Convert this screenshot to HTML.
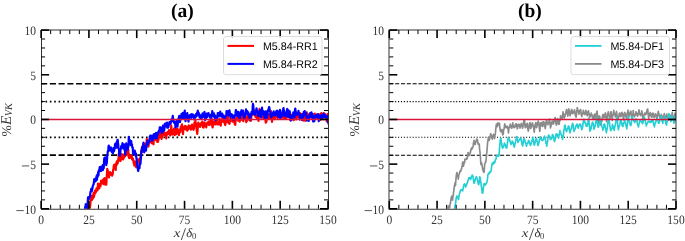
<!DOCTYPE html>
<html><head><meta charset="utf-8"><title>fig</title><style>html,body{margin:0;padding:0;background:#fff;width:685px;height:241px;overflow:hidden}svg{display:block;will-change:transform}</style></head><body>
<svg width="685" height="241" viewBox="0 0 685 241">
<defs><clipPath id="ca"><rect x="41.1" y="30.1" width="286.9" height="178.7"/></clipPath><clipPath id="cb"><rect x="389.3" y="30.1" width="286.7" height="178.7"/></clipPath></defs>
<style>text{text-rendering:geometricPrecision}.tl{font-family:"Liberation Serif",serif;font-size:12.8px;fill:#333}.it{font-style:italic}.ts{font-family:"Liberation Serif",serif;font-size:9px;fill:#333}.yl{font-size:13.6px}.lg{font-family:"Liberation Sans",sans-serif;font-size:11px;fill:#000}.tt{font-family:"Liberation Serif",serif;font-size:19.5px;font-weight:bold;fill:#000}</style>
<line x1="41.1" y1="83.71" x2="328" y2="83.71" stroke="#000" stroke-width="1.65" stroke-dasharray="6.1 2.64"/>
<line x1="41.1" y1="155.19" x2="328" y2="155.19" stroke="#000" stroke-width="1.65" stroke-dasharray="6.1 2.64"/>
<line x1="41.1" y1="101.58" x2="328" y2="101.58" stroke="#000" stroke-width="1.65" stroke-dasharray="1.65 2.72"/>
<line x1="41.1" y1="137.32" x2="328" y2="137.32" stroke="#000" stroke-width="1.65" stroke-dasharray="1.65 2.72"/>
<g clip-path="url(#ca)" fill="none" stroke-linejoin="round">
<polyline points="87,215.28 87.25,213.23 87.5,213.86 87.75,211.1 88,207.07 88.25,206.74 88.5,208.09 88.75,206.31 89,208.44 89.25,208.8 89.5,206.38 89.75,208.08 90,207.01 90.25,204.63 90.5,201.83 90.75,199.38 91,197.66 91.25,195.82 91.5,198.1 91.75,199.39 92,199.96 92.25,197.26 92.5,197.33 92.75,196.22 93,198.35 93.25,195.87 93.5,192.74 93.75,195.45 94,196.97 94.25,194.81 94.5,194.55 94.75,193.15 95,190.67 95.25,191.11 95.5,192.07 95.75,192.55 96,191.74 96.25,190.93 96.5,188.43 96.75,190.41 97,188.99 97.25,188.73 97.5,190.5 97.75,187.13 98,183.72 98.25,185.08 98.5,187.38 98.75,183.8 99,188.17 99.25,188.47 99.5,186.12 99.75,185.22 100,185.68 100.25,184.67 100.5,186.28 100.75,184.23 101,180.73 101.25,180.76 101.5,181.85 101.75,182.72 102,180.59 102.25,180.82 102.5,183.33 102.75,181.2 103,180.95 103.25,179.4 103.5,180.59 103.75,184.15 104,178.81 104.25,180.28 104.5,178.03 104.75,180.85 105,182.93 105.25,182.56 105.5,184.74 105.75,184.33 106,183.48 106.25,184.65 106.5,181.25 106.75,176.42 107,172.6 107.25,168.95 107.5,170.95 107.75,170.29 108,174.8 108.25,174.31 108.5,172.71 108.75,173.58 109,177.46 109.25,172.43 109.5,173.8 109.75,175.04 110,172.01 110.25,172.72 110.5,172.98 110.75,174.46 111,173.63 111.25,173.86 111.5,174 111.75,173.11 112,175.75 112.25,174.47 112.5,174.68 112.75,173.87 113,170.94 113.25,169.36 113.5,168.13 113.75,166.14 114,165.19 114.25,164.68 114.5,165.63 114.75,167.24 115,168.4 115.25,168.54 115.5,169.49 115.75,169.84 116,163.96 116.25,164.97 116.5,162.05 116.75,164.81 117,163.26 117.25,160.78 117.5,162.42 117.75,163.53 118,160.17 118.25,160.48 118.5,157.63 118.75,153.72 119,156.52 119.25,156.52 119.5,156.38 119.75,160.7 120,160.53 120.25,159.23 120.5,160.96 120.75,158.61 121,159.66 121.25,156.29 121.5,157.09 121.75,154.2 122,158.19 122.25,156.93 122.5,158.84 122.75,156.19 123,157.14 123.25,159.33 123.5,154.72 123.75,155.91 124,157.65 124.25,155.76 124.5,156.14 124.75,154.75 125,156.42 125.25,155.14 125.5,154.25 125.75,153.77 126,155.21 126.25,155.03 126.5,154.54 126.75,150.25 127,151.98 127.25,153.28 127.5,153.59 127.75,151.67 128,150.68 128.25,149.39 128.5,156.37 128.75,153.29 129,157.81 129.25,158.18 129.5,156.9 129.75,156.3 130,157.31 130.25,155.65 130.5,157.62 130.75,157.03 131,156.98 131.25,156.89 131.5,157.25 131.75,155.56 132,159.18 132.25,158.47 132.5,159.73 132.75,159.61 133,158.59 133.25,160.72 133.5,161.28 133.75,163.45 134,163.32 134.25,165.39 134.5,163.21 134.75,161.28 135,162.29 135.25,162.07 135.5,162.27 135.75,166.71 136,165.33 136.25,167.29 136.5,165.98 136.75,165.43 137,163.88 137.25,165.75 137.5,164.31 137.75,163.44 138,161.3 138.25,159.34 138.5,160.64 138.75,159.65 139,161.48 139.25,162.1 139.5,160.6 139.75,158.94 140,158.64 140.25,158.74 140.5,155.76 140.75,156.28 141,154.43 141.25,151.55 141.5,150.02 141.75,149.86 142,147.67 142.25,146.73 142.5,148.84 142.75,148.79 143,151.4 143.25,148.36 143.5,146.26 143.75,148.75 144,147.72 144.25,144.87 144.5,144.09 144.75,146.13 145,143.99 145.25,145.98 145.5,143.68 145.75,146.36 146,143.5 146.25,143.77 146.5,143.81 146.75,139.13 147,140.25 147.25,139.63 147.5,140.47 147.75,140.9 148,144.75 148.25,143.88 148.5,146.55 148.75,142.56 149,142.41 149.25,141.37 149.5,141.87 149.75,141.82 150,138.31 150.25,137.37 150.5,136.59 150.75,141.9 151,141.42 151.25,141.98 151.5,143.13 151.75,139.52 152,140.18 152.25,143.21 152.5,142.9 152.75,142.98 153,141.87 153.25,143.84 153.5,144.34 153.75,139.52 154,140.13 154.25,138.74 154.5,138.95 154.75,137.69 155,136.95 155.25,137.09 155.5,139.16 155.75,139.34 156,140.19 156.25,139.89 156.5,140.41 156.75,138.39 157,139.41 157.25,141.89 157.5,140.94 157.75,141.08 158,141.82 158.25,140.47 158.5,139.64 158.75,137.86 159,133.44 159.25,132.99 159.5,131.99 159.75,131.92 160,130.11 160.25,133.26 160.5,132.83 160.75,134.93 161,136.62 161.25,136.29 161.5,139.01 161.75,136.85 162,137.5 162.25,136.58 162.5,136.26 162.75,134.87 163,130.41 163.25,132.26 163.5,129.91 163.75,132.3 164,134.03 164.25,134.49 164.5,135.17 164.75,133.28 165,134.08 165.25,133.55 165.5,134.8 165.75,135.08 166,132.94 166.25,138.39 166.5,134.18 166.75,133.92 167,134.69 167.25,134.45 167.5,133.74 167.75,131.91 168,134.22 168.25,132.11 168.5,133.7 168.75,133.3 169,129.98 169.25,130.33 169.5,130.9 169.75,133.49 170,134.17 170.25,135.44 170.5,131.85 170.75,131.04 171,129.85 171.25,125.58 171.5,128.71 171.75,130.81 172,131.9 172.25,132.25 172.5,134.69 172.75,134.27 173,133.61 173.25,130.6 173.5,133.03 173.75,129.59 174,128.67 174.25,130.02 174.5,130.96 174.75,135.24 175,132.24 175.25,131.27 175.5,127.94 175.75,131.25 176,130.18 176.25,131.06 176.5,134.03 176.75,131.9 177,133.11 177.25,132.74 177.5,128.73 177.75,131.14 178,129.88 178.25,132.04 178.5,133.45 178.75,131.09 179,135.06 179.25,132.81 179.5,131.12 179.75,131.7 180,132.22 180.25,128.97 180.5,129.6 180.75,126.9 181,128.89 181.25,127.04 181.5,125.81 181.75,127.05 182,124.32 182.25,127.64 182.5,132.47 182.75,132.33 183,134.2 183.25,131.38 183.5,128.95 183.75,128.14 184,128.07 184.25,127.17 184.5,126.27 184.75,126.25 185,126.02 185.25,128.45 185.5,129.31 185.75,129.57 186,126.3 186.25,128.92 186.5,127.79 186.75,126.82 187,129.21 187.25,130.64 187.5,130.21 187.75,129.9 188,129.56 188.25,128.97 188.5,127.81 188.75,125.36 189,126.72 189.25,127.67 189.5,126.2 189.75,126.99 190,126.57 190.25,126.21 190.5,129.16 190.75,126.87 191,129.55 191.25,126.9 191.5,125.48 191.75,125.89 192,124.53 192.25,127.22 192.5,125.95 192.75,128.36 193,127.96 193.25,129.28 193.5,129.8 193.75,128.53 194,128.36 194.25,124.09 194.5,122.29 194.75,123.34 195,122.72 195.25,121.62 195.5,121.02 195.75,125.36 196,123.56 196.25,126.27 196.5,127.66 196.75,131.04 197,131.64 197.25,133.8 197.5,131.4 197.75,127.57 198,124.39 198.25,122.57 198.5,126.01 198.75,124.41 199,123.82 199.25,123.66 199.5,125.03 199.75,126.06 200,126.92 200.25,123.49 200.5,124.95 200.75,123.4 201,123.76 201.25,123.81 201.5,124.65 201.75,123.91 202,125.04 202.25,121.49 202.5,123.43 202.75,127.04 203,124.36 203.25,125.95 203.5,127.54 203.75,125.38 204,126.5 204.25,123.4 204.5,122.25 204.75,123.34 205,123.39 205.25,125.67 205.5,125.24 205.75,125.68 206,123.81 206.25,127.51 206.5,124.07 206.75,123.74 207,123.81 207.25,122.83 207.5,122.41 207.75,123.23 208,124.27 208.25,123.72 208.5,123.67 208.75,121.72 209,121.33 209.25,125.13 209.5,123.2 209.75,124.54 210,124.55 210.25,124.47 210.5,120.52 210.75,120.62 211,120.62 211.25,120.71 211.5,118.44 211.75,121.61 212,120.21 212.25,125.5 212.5,127.4 212.75,126.91 213,123.69 213.25,124.93 213.5,121.91 213.75,121.45 214,121.58 214.25,121.62 214.5,122.99 214.75,124.12 215,121.24 215.25,123.4 215.5,124.42 215.75,122.86 216,122.36 216.25,119.6 216.5,122.4 216.75,119.6 217,121.68 217.25,123.32 217.5,124.39 217.75,123.46 218,124.31 218.25,122.6 218.5,122.73 218.75,124.46 219,122.52 219.25,121.37 219.5,118.9 219.75,119.61 220,121.46 220.25,121.08 220.5,122.7 220.75,125.57 221,122.97 221.25,121.51 221.5,119.53 221.75,119.64 222,119.63 222.25,121.1 222.5,118.61 222.75,121.56 223,118.69 223.25,119.61 223.5,121.27 223.75,120.41 224,120.07 224.25,121.15 224.5,123.09 224.75,121.86 225,124.78 225.25,125.09 225.5,122.74 225.75,122.07 226,118.71 226.25,119.21 226.5,120.58 226.75,122.21 227,121.6 227.25,121.89 227.5,117.53 227.75,118.25 228,115.89 228.25,118 228.5,119.95 228.75,123.24 229,122.51 229.25,121.54 229.5,123.96 229.75,122.3 230,120.71 230.25,121.24 230.5,119.97 230.75,120.47 231,118.5 231.25,119.15 231.5,119.21 231.75,119.4 232,119.65 232.25,119.47 232.5,121.69 232.75,121.03 233,121.63 233.25,120.82 233.5,121.04 233.75,119.79 234,121.04 234.25,122.09 234.5,122.26 234.75,124.1 235,124.33 235.25,124.81 235.5,121.79 235.75,118.91 236,120.1 236.25,118.83 236.5,117.31 236.75,118.5 237,118.01 237.25,118.54 237.5,118.02 237.75,118.94 238,119.07 238.25,120.76 238.5,117.95 238.75,118.76 239,119.33 239.25,117.09 239.5,117.45 239.75,121.75 240,117.34 240.25,119.99 240.5,118.48 240.75,118.74 241,117.44 241.25,118.69 241.5,119.75 241.75,115.91 242,116.7 242.25,115.04 242.5,118.45 242.75,117.3 243,120.85 243.25,121.12 243.5,118.82 243.75,116.22 244,118.77 244.25,114.97 244.5,115.5 244.75,116.56 245,116.62 245.25,115.45 245.5,117.45 245.75,118.23 246,120.48 246.25,122.19 246.5,117.65 246.75,121.15 247,116.23 247.25,118.85 247.5,116.94 247.75,119.98 248,117.73 248.25,116.61 248.5,116.74 248.75,115.96 249,115.88 249.25,114.6 249.5,115.08 249.75,118.63 250,120.33 250.25,120.78 250.5,120.63 250.75,120.11 251,120.73 251.25,117.78 251.5,116.08 251.75,115.52 252,112.41 252.25,111.77 252.5,113.8 252.75,113.01 253,113.05 253.25,114.31 253.5,113.74 253.75,114.04 254,114.5 254.25,114.58 254.5,112.84 254.75,110.36 255,111.66 255.25,114.09 255.5,116.8 255.75,114.81 256,116.26 256.25,115.42 256.5,116.41 256.75,116.18 257,118.52 257.25,118.51 257.5,118.36 257.75,118.46 258,119.29 258.25,119.06 258.5,120.8 258.75,117.45 259,111.66 259.25,110.85 259.5,108.91 259.75,110.45 260,115.05 260.25,116.71 260.5,113.81 260.75,115.64 261,111.39 261.25,111 261.5,114.82 261.75,116.14 262,117.58 262.25,117.73 262.5,117.51 262.75,116.59 263,116.18 263.25,114.61 263.5,115.61 263.75,118.19 264,116.27 264.25,116.51 264.5,116.11 264.75,113.09 265,115.53 265.25,119.59 265.5,120.07 265.75,122.66 266,122.51 266.25,121.79 266.5,120.86 266.75,118.47 267,116.02 267.25,115.61 267.5,113.98 267.75,114.36 268,116.54 268.25,115.94 268.5,117.9 268.75,116.01 269,115.28 269.25,114.63 269.5,114.87 269.75,118.19 270,113.91 270.25,115.72 270.5,115.53 270.75,113.55 271,111.1 271.25,115.32 271.5,115.11 271.75,117.78 272,122 272.25,117.77 272.5,114.78 272.75,116.47 273,115.58 273.25,115.93 273.5,114.88 273.75,116.05 274,115.45 274.25,119.18 274.5,118.81 274.75,118.92 275,115.23 275.25,117.44 275.5,117.41 275.75,117.11 276,116.85 276.25,116.13 276.5,115.91 276.75,116.71 277,116.28 277.25,116.09 277.5,115.57 277.75,118.03 278,115.09 278.25,116.64 278.5,115.29 278.75,116.31 279,116.03 279.25,115.44 279.5,115.47 279.75,113.58 280,118.04 280.25,116.52 280.5,116.01 280.75,116.29 281,115.98 281.25,116.75 281.5,116.47 281.75,115.6 282,113.26 282.25,116.41 282.5,117.29 282.75,117.61 283,116.73 283.25,117.13 283.5,117.57 283.75,115.96 284,118.95 284.25,115.88 284.5,117.4 284.75,117.37 285,114.83 285.25,115.65 285.5,117.54 285.75,117.67 286,116.52 286.25,118.51 286.5,116.53 286.75,114.98 287,115.11 287.25,113.94 287.5,115.29 287.75,113.17 288,116.38 288.25,114.81 288.5,115.77 288.75,112.52 289,113.16 289.25,114.64 289.5,116.76 289.75,115.65 290,119.79 290.25,117.31 290.5,115.11 290.75,116.06 291,114.57 291.25,116.09 291.5,117.66 291.75,116.15 292,115.39 292.25,116.21 292.5,118.07 292.75,118.22 293,116.91 293.25,117.16 293.5,118.75 293.75,120.18 294,113.92 294.25,117.06 294.5,115.33 294.75,115.35 295,114.33 295.25,112.44 295.5,111.8 295.75,113.09 296,114.24 296.25,119.42 296.5,117.76 296.75,117.29 297,117.37 297.25,115.7 297.5,116.34 297.75,116.4 298,115.09 298.25,112.91 298.5,117.63 298.75,116.81 299,116.79 299.25,116.49 299.5,115.88 299.75,115.97 300,114.18 300.25,113.23 300.5,114.12 300.75,116.07 301,113.78 301.25,115.85 301.5,116.38 301.75,119.86 302,114.65 302.25,117.92 302.5,115.09 302.75,116.02 303,116.81 303.25,120.63 303.5,116.08 303.75,113.55 304,115.93 304.25,112.3 304.5,113.74 304.75,116.35 305,118.79 305.25,120.81 305.5,119.7 305.75,118.17 306,117.06 306.25,114.26 306.5,113.25 306.75,112.29 307,113.58 307.25,113.75 307.5,115.92 307.75,117.36 308,119.81 308.25,117.52 308.5,117.58 308.75,114.68 309,114.73 309.25,116.08 309.5,115.38 309.75,117.88 310,115.24 310.25,116.43 310.5,113.21 310.75,114.61 311,115.74 311.25,116.09 311.5,114.52 311.75,116.85 312,117.97 312.25,117.72 312.5,116.27 312.75,115.63 313,114.32 313.25,115.72 313.5,116.88 313.75,115.69 314,115.33 314.25,118.39 314.5,118.3 314.75,113.7 315,116.24 315.25,117.9 315.5,116.12 315.75,115.41 316,114.91 316.25,116.12 316.5,114.63 316.75,115.42 317,117.53 317.25,116.69 317.5,118.11 317.75,115.98 318,118.83 318.25,118.42 318.5,117.05 318.75,116.77 319,118.03 319.25,114.63 319.5,114.47 319.75,114.59 320,116.69 320.25,117.38 320.5,119.95 320.75,118 321,115.15 321.25,113.04 321.5,114.54 321.75,113.5 322,113.69 322.25,114.39 322.5,114.86 322.75,116.63 323,117.2 323.25,116.74 323.5,115.61 323.75,114.37 324,113.21 324.25,115.97 324.5,114.25 324.75,113.95 325,116.24 325.25,116.54 325.5,117.7 325.75,116.22 326,117.78 326.25,118.15 326.5,119.67 326.75,121.27 327,121.56 327.25,118.52 327.5,114.4 327.75,113.97 328,114.92 328.25,117.25 328.5,115.91 328.75,116.94" stroke="#f00" stroke-width="2.2"/>
<polyline points="84.5,210.32 84.75,210.27 85,208.59 85.25,206.67 85.5,206.46 85.75,204.22 86,204.84 86.25,209.15 86.5,210.51 86.75,210.68 87,207.5 87.25,205.7 87.5,204.12 87.75,201.59 88,197.57 88.25,197.13 88.5,197.39 88.75,199.16 89,197.26 89.25,197.27 89.5,197.48 89.75,196.26 90,196.53 90.25,193.88 90.5,191.54 90.75,192.1 91,191.05 91.25,188.74 91.5,190.36 91.75,188.79 92,190.9 92.25,188.63 92.5,188.06 92.75,186.14 93,185.7 93.25,184.92 93.5,184.88 93.75,183.58 94,181.4 94.25,179.23 94.5,181.48 94.75,181.52 95,179.59 95.25,181.51 95.5,179.21 95.75,178.38 96,179.09 96.25,180.34 96.5,176.06 96.75,176.34 97,179.57 97.25,174.82 97.5,177.2 97.75,175.49 98,173.1 98.25,172.15 98.5,175.48 98.75,170.43 99,171.51 99.25,171.08 99.5,169.18 99.75,167.04 100,169.77 100.25,168.58 100.5,166.95 100.75,169.24 101,171.12 101.25,170.25 101.5,166.89 101.75,167.81 102,167.88 102.25,168.07 102.5,168.07 102.75,165.1 103,170.03 103.25,166.88 103.5,168.07 103.75,168.1 104,161.83 104.25,158.22 104.5,158.81 104.75,157.62 105,157.75 105.25,157.52 105.5,161.62 105.75,160.78 106,161.65 106.25,165.15 106.5,163.63 106.75,163.35 107,160.5 107.25,154.84 107.5,155.14 107.75,151.54 108,151.42 108.25,150.35 108.5,146.49 108.75,145.65 109,146.36 109.25,148.15 109.5,147.99 109.75,149.82 110,150.55 110.25,150.19 110.5,149.78 110.75,147.23 111,147.71 111.25,149.5 111.5,149.6 111.75,151.64 112,152.18 112.25,151.35 112.5,150.36 112.75,149.97 113,153.13 113.25,151.57 113.5,148.05 113.75,147.91 114,151.14 114.25,150.26 114.5,147.82 114.75,148.39 115,144 115.25,145.22 115.5,146.28 115.75,143.29 116,145.24 116.25,147.74 116.5,146.32 116.75,142.05 117,141.35 117.25,142.25 117.5,139.88 117.75,139.82 118,143.28 118.25,144.58 118.5,148.67 118.75,148.76 119,149.34 119.25,155.28 119.5,152.9 119.75,155.73 120,155.23 120.25,153.31 120.5,150.38 120.75,149.03 121,148.05 121.25,146 121.5,146.56 121.75,145.75 122,145.18 122.25,144.9 122.5,143.22 122.75,146.14 123,148.06 123.25,144.65 123.5,148.74 123.75,147.26 124,144.39 124.25,148.05 124.5,147.9 124.75,150.15 125,151.43 125.25,154.63 125.5,151.9 125.75,147.57 126,145.06 126.25,143.27 126.5,145.74 126.75,146.61 127,149.76 127.25,148.66 127.5,149.63 127.75,149.73 128,148.02 128.25,146.6 128.5,146 128.75,136.95 129,139.42 129.25,139.32 129.5,140.27 129.75,139.85 130,142.24 130.25,143.18 130.5,144.07 130.75,145.08 131,144.08 131.25,141.17 131.5,145.13 131.75,144.15 132,144.41 132.25,147.36 132.5,147.61 132.75,147.47 133,153.52 133.25,151.93 133.5,153.87 133.75,153.4 134,153.9 134.25,152.62 134.5,151.51 134.75,150.66 135,151.6 135.25,154.18 135.5,155.67 135.75,154.53 136,153.54 136.25,157.76 136.5,158.06 136.75,160.72 137,163.27 137.25,165.51 137.5,166.15 137.75,168.2 138,170.15 138.25,171.03 138.5,166.74 138.75,166.61 139,168.02 139.25,166.54 139.5,168.23 139.75,164.27 140,163.37 140.25,164.2 140.5,163.67 140.75,159.55 141,157.75 141.25,152.71 141.5,150.57 141.75,152.1 142,147.46 142.25,149.56 142.5,147.96 142.75,146.7 143,145.49 143.25,143.81 143.5,142.64 143.75,146.58 144,149.55 144.25,152.3 144.5,148.18 144.75,147.4 145,146.56 145.25,149.25 145.5,146.47 145.75,147.68 146,150.68 146.25,145.59 146.5,147.31 146.75,144.72 147,142.09 147.25,142.54 147.5,140.73 147.75,141.31 148,142.09 148.25,144.07 148.5,142.58 148.75,142.58 149,140.85 149.25,140.86 149.5,141.57 149.75,136.53 150,138.61 150.25,135.71 150.5,135.68 150.75,135.91 151,136.51 151.25,135.72 151.5,135.97 151.75,138.54 152,139.7 152.25,140.77 152.5,139.69 152.75,139.18 153,137.05 153.25,136.42 153.5,134.65 153.75,136.23 154,134.06 154.25,136.92 154.5,134.24 154.75,136.58 155,138.23 155.25,133.51 155.5,135.24 155.75,133.56 156,132.93 156.25,133.69 156.5,136.51 156.75,138.5 157,136.22 157.25,132.98 157.5,132.73 157.75,133.1 158,134.47 158.25,132.31 158.5,131.48 158.75,132.47 159,130.7 159.25,130.87 159.5,130.51 159.75,127.45 160,129.37 160.25,128.64 160.5,129.49 160.75,127.41 161,128.5 161.25,131.35 161.5,131.11 161.75,133.04 162,130.84 162.25,131.8 162.5,128.92 162.75,128.32 163,125.56 163.25,127.85 163.5,129.99 163.75,130.91 164,128.48 164.25,130.02 164.5,127.6 164.75,123.97 165,123.76 165.25,125.32 165.5,126.53 165.75,125.71 166,123.4 166.25,124.91 166.5,124.01 166.75,126.66 167,122.58 167.25,127.73 167.5,127.28 167.75,125.77 168,127.64 168.25,125.82 168.5,126.86 168.75,124.32 169,124.88 169.25,123.03 169.5,122.01 169.75,123.21 170,122.3 170.25,123.32 170.5,123.91 170.75,121.89 171,121.96 171.25,121.85 171.5,119.24 171.75,121.3 172,120.71 172.25,119.85 172.5,117.84 172.75,115.94 173,117.57 173.25,118.98 173.5,120.92 173.75,121.44 174,122.4 174.25,121.65 174.5,123.13 174.75,121.97 175,123.63 175.25,124.58 175.5,127.32 175.75,124.42 176,121.82 176.25,124.13 176.5,120.74 176.75,122.52 177,123.37 177.25,123.74 177.5,126.74 177.75,124.04 178,120.81 178.25,119.94 178.5,118.27 178.75,118.79 179,116.91 179.25,115.86 179.5,117.63 179.75,119.51 180,122.05 180.25,120.53 180.5,119.31 180.75,117.71 181,117.73 181.25,116.85 181.5,113.74 181.75,117.95 182,118.68 182.25,118.23 182.5,118.43 182.75,116.22 183,112.89 183.25,116.74 183.5,117.35 183.75,118.28 184,117.62 184.25,112.97 184.5,113.73 184.75,110.55 185,114.52 185.25,116.96 185.5,121.14 185.75,117.35 186,115.43 186.25,117.42 186.5,115.09 186.75,116.99 187,113.81 187.25,113.08 187.5,116.53 187.75,117.1 188,119.91 188.25,118.76 188.5,121.59 188.75,118.37 189,119.32 189.25,116.61 189.5,115.31 189.75,116.14 190,115.91 190.25,116.89 190.5,114.98 190.75,114.97 191,114.61 191.25,117.85 191.5,113.98 191.75,116.81 192,115.33 192.25,115.72 192.5,114.67 192.75,116.6 193,114.63 193.25,115.34 193.5,117.31 193.75,116.77 194,119.04 194.25,119.42 194.5,117.6 194.75,118.4 195,115.78 195.25,115.47 195.5,114.79 195.75,116.91 196,114.78 196.25,113.73 196.5,113.74 196.75,116.04 197,112.77 197.25,114.07 197.5,113.61 197.75,110.72 198,112.42 198.25,113.95 198.5,113.6 198.75,112.83 199,115.1 199.25,115.29 199.5,117.41 199.75,114.69 200,115.54 200.25,116.83 200.5,117.41 200.75,118.47 201,118.54 201.25,117.88 201.5,116.9 201.75,118.02 202,115.65 202.25,114.43 202.5,113.49 202.75,114.24 203,115.45 203.25,114.22 203.5,116.64 203.75,116.74 204,115.06 204.25,112.57 204.5,111.94 204.75,117.06 205,118.87 205.25,119.87 205.5,118.03 205.75,119.43 206,117.77 206.25,115.01 206.5,115.24 206.75,113.7 207,117.22 207.25,114.37 207.5,116.05 207.75,115.14 208,113.47 208.25,115.13 208.5,113.09 208.75,114.22 209,114.75 209.25,114.89 209.5,114.82 209.75,117.33 210,116.42 210.25,115.33 210.5,114.99 210.75,114.94 211,117.97 211.25,116.09 211.5,116.19 211.75,114.9 212,113.28 212.25,111.16 212.5,112.18 212.75,113.09 213,113.5 213.25,114.54 213.5,116.74 213.75,115.37 214,113.31 214.25,114.03 214.5,114.67 214.75,116.29 215,119.15 215.25,119.18 215.5,120.13 215.75,116.09 216,116.39 216.25,116.51 216.5,116.97 216.75,119.15 217,118.82 217.25,116.8 217.5,115.95 217.75,112.99 218,113.03 218.25,113.62 218.5,115.49 218.75,116.43 219,116.14 219.25,115.01 219.5,113.54 219.75,112.54 220,115.6 220.25,111.62 220.5,113.67 220.75,115.41 221,115.09 221.25,116.55 221.5,115.96 221.75,113.91 222,114.89 222.25,113.57 222.5,116.31 222.75,117.3 223,115.57 223.25,117.13 223.5,116.42 223.75,115.61 224,117.09 224.25,116.22 224.5,117.34 224.75,118.23 225,118.75 225.25,119.14 225.5,116.67 225.75,116.66 226,116.29 226.25,115.62 226.5,111.01 226.75,112.53 227,113.61 227.25,111.43 227.5,112.92 227.75,113.59 228,111.07 228.25,113.72 228.5,115.02 228.75,115.34 229,112.2 229.25,112.88 229.5,110.44 229.75,112.19 230,113.73 230.25,114.66 230.5,117.53 230.75,116.27 231,115.67 231.25,114.1 231.5,115.14 231.75,116.23 232,115.34 232.25,115.08 232.5,114.78 232.75,115.61 233,117.79 233.25,115.88 233.5,119.7 233.75,117.13 234,119.48 234.25,117.98 234.5,115.75 234.75,116.51 235,115.51 235.25,114.41 235.5,113.4 235.75,110.57 236,109.94 236.25,111.56 236.5,111.9 236.75,114.62 237,115.75 237.25,115.86 237.5,115.83 237.75,115.12 238,115.64 238.25,111.75 238.5,112.83 238.75,113.19 239,115.91 239.25,116.99 239.5,118.48 239.75,117.41 240,118.07 240.25,115.51 240.5,115.96 240.75,111.75 241,114.25 241.25,112.37 241.5,110.22 241.75,111.37 242,111.44 242.25,113.39 242.5,114.36 242.75,113.12 243,110.63 243.25,112 243.5,113.41 243.75,116.27 244,118.13 244.25,117.06 244.5,117.15 244.75,116.75 245,113.81 245.25,114.94 245.5,113.25 245.75,112.73 246,109.29 246.25,112.32 246.5,110.81 246.75,111.9 247,113.54 247.25,111.05 247.5,111.86 247.75,114.71 248,112.17 248.25,112.22 248.5,113.81 248.75,113.96 249,116.28 249.25,117.03 249.5,117.49 249.75,118.46 250,119.61 250.25,116.69 250.5,117.63 250.75,116.05 251,113.73 251.25,112.98 251.5,111.93 251.75,112.83 252,114.37 252.25,112.98 252.5,111.55 252.75,105.72 253,103.93 253.25,105.31 253.5,108.45 253.75,112.54 254,111.82 254.25,114.36 254.5,112.98 254.75,113.54 255,114.71 255.25,112.67 255.5,113.07 255.75,111.82 256,111.12 256.25,110.35 256.5,108.34 256.75,109.56 257,111.45 257.25,112.61 257.5,111.72 257.75,115.56 258,115.93 258.25,114.69 258.5,115.25 258.75,115.74 259,112.11 259.25,112.09 259.5,111.97 259.75,111.01 260,110.18 260.25,110.04 260.5,110.61 260.75,112.88 261,117.66 261.25,113.75 261.5,112.53 261.75,110.78 262,107.54 262.25,110.67 262.5,111.05 262.75,113.44 263,110.85 263.25,114.57 263.5,113.95 263.75,111.25 264,114.25 264.25,114.32 264.5,116.3 264.75,118.36 265,115.25 265.25,112.8 265.5,112.7 265.75,111.26 266,113.25 266.25,114.86 266.5,116.38 266.75,118.05 267,116.89 267.25,114.09 267.5,115.46 267.75,110.83 268,110.63 268.25,109.78 268.5,110.15 268.75,108.53 269,107.11 269.25,107.12 269.5,108.61 269.75,111.49 270,111.26 270.25,111.91 270.5,114.37 270.75,116.84 271,117.18 271.25,117.34 271.5,116.35 271.75,115.42 272,115.25 272.25,113.6 272.5,115.68 272.75,113.39 273,114.18 273.25,112.29 273.5,114.01 273.75,111.39 274,115.19 274.25,112.59 274.5,114.79 274.75,114.39 275,113.23 275.25,115.38 275.5,113.23 275.75,115.28 276,112.37 276.25,112.52 276.5,110.89 276.75,112.88 277,112.4 277.25,110.72 277.5,110.91 277.75,111.61 278,116.81 278.25,116.51 278.5,113.8 278.75,115.79 279,113.33 279.25,117.36 279.5,115.92 279.75,113.49 280,109.94 280.25,111.24 280.5,112.88 280.75,117.6 281,117.74 281.25,117.07 281.5,115.73 281.75,114.97 282,115.5 282.25,115.63 282.5,113.14 282.75,112.16 283,109.9 283.25,108.85 283.5,108.06 283.75,110.59 284,111.8 284.25,114.41 284.5,115.73 284.75,115.08 285,114.13 285.25,114.95 285.5,113.37 285.75,116.38 286,113.58 286.25,112.03 286.5,113.88 286.75,110.3 287,110.45 287.25,108.97 287.5,111.6 287.75,112.7 288,115.63 288.25,117.13 288.5,112.83 288.75,110.47 289,113.28 289.25,111.79 289.5,112.67 289.75,111.42 290,114.22 290.25,116.98 290.5,116.09 290.75,120.62 291,119.75 291.25,118.19 291.5,119.17 291.75,119.68 292,116.65 292.25,115.94 292.5,117.96 292.75,115.71 293,115.21 293.25,112.65 293.5,112.42 293.75,113.96 294,114.83 294.25,115.65 294.5,117.37 294.75,113.79 295,109.74 295.25,108.55 295.5,110 295.75,113.28 296,112.88 296.25,114.95 296.5,114.88 296.75,113.66 297,113.09 297.25,113.31 297.5,114.34 297.75,113.47 298,112.28 298.25,112.96 298.5,110.82 298.75,113.25 299,113.32 299.25,114.38 299.5,113.74 299.75,119.55 300,114.38 300.25,116.27 300.5,116.08 300.75,117.67 301,115.21 301.25,117.27 301.5,116.88 301.75,116.97 302,118.65 302.25,119.72 302.5,118.98 302.75,117.31 303,113.86 303.25,116.91 303.5,113.9 303.75,111.76 304,113.66 304.25,114.79 304.5,112.63 304.75,111.07 305,114.76 305.25,112.66 305.5,113.48 305.75,115.29 306,112.79 306.25,116.08 306.5,116.85 306.75,120.53 307,118.17 307.25,117.87 307.5,116.48 307.75,116.65 308,117.09 308.25,118.05 308.5,118.02 308.75,120.95 309,118.43 309.25,117.29 309.5,116.76 309.75,114.66 310,113.78 310.25,113.09 310.5,115.72 310.75,114.53 311,116.81 311.25,114.17 311.5,112.37 311.75,114.7 312,115.66 312.25,113.91 312.5,114.74 312.75,116.9 313,120.91 313.25,121.54 313.5,121.49 313.75,120.18 314,118.34 314.25,121.19 314.5,119.83 314.75,116.37 315,117.07 315.25,116.14 315.5,115.31 315.75,115.38 316,116.62 316.25,114.87 316.5,116.15 316.75,117.15 317,117.35 317.25,116.19 317.5,115.68 317.75,115.04 318,114 318.25,116.63 318.5,117.42 318.75,121.16 319,116.82 319.25,117.04 319.5,117.1 319.75,115.73 320,116.37 320.25,116.84 320.5,118.52 320.75,116.51 321,117.3 321.25,116.84 321.5,115.01 321.75,117.37 322,116.93 322.25,118.22 322.5,118.58 322.75,117.39 323,115.06 323.25,116.08 323.5,113.58 323.75,114.25 324,116.79 324.25,114.85 324.5,116.9 324.75,115.26 325,115.89 325.25,114.8 325.5,117.32 325.75,116.24 326,117.33 326.25,117.23 326.5,117.45 326.75,117.28 327,117.19 327.25,117.61 327.5,117.3 327.75,116.16 328,120.2 328.25,122.98 328.5,122.89 328.75,124.57" stroke="#00f" stroke-width="2.2"/>
<line x1="41.1" y1="119.45" x2="328" y2="119.45" stroke="#dc143c" stroke-width="1.6"/>
</g>
<rect x="41.45" y="30" width="287" height="179.2" fill="none" stroke="#000" stroke-width="0.8"/>
<line x1="41.1" y1="208.8" x2="41.1" y2="200.8" stroke="#000" stroke-width="1.6"/>
<line x1="41.1" y1="30.1" x2="41.1" y2="38.1" stroke="#000" stroke-width="1.6"/>
<line x1="50.66" y1="208.8" x2="50.66" y2="204.8" stroke="#000" stroke-width="1"/>
<line x1="50.66" y1="30.1" x2="50.66" y2="34.1" stroke="#000" stroke-width="1"/>
<line x1="60.23" y1="208.8" x2="60.23" y2="204.8" stroke="#000" stroke-width="1"/>
<line x1="60.23" y1="30.1" x2="60.23" y2="34.1" stroke="#000" stroke-width="1"/>
<line x1="69.79" y1="208.8" x2="69.79" y2="204.8" stroke="#000" stroke-width="1"/>
<line x1="69.79" y1="30.1" x2="69.79" y2="34.1" stroke="#000" stroke-width="1"/>
<line x1="79.35" y1="208.8" x2="79.35" y2="204.8" stroke="#000" stroke-width="1"/>
<line x1="79.35" y1="30.1" x2="79.35" y2="34.1" stroke="#000" stroke-width="1"/>
<line x1="88.92" y1="208.8" x2="88.92" y2="200.8" stroke="#000" stroke-width="1.6"/>
<line x1="88.92" y1="30.1" x2="88.92" y2="38.1" stroke="#000" stroke-width="1.6"/>
<line x1="98.48" y1="208.8" x2="98.48" y2="204.8" stroke="#000" stroke-width="1"/>
<line x1="98.48" y1="30.1" x2="98.48" y2="34.1" stroke="#000" stroke-width="1"/>
<line x1="108.04" y1="208.8" x2="108.04" y2="204.8" stroke="#000" stroke-width="1"/>
<line x1="108.04" y1="30.1" x2="108.04" y2="34.1" stroke="#000" stroke-width="1"/>
<line x1="117.61" y1="208.8" x2="117.61" y2="204.8" stroke="#000" stroke-width="1"/>
<line x1="117.61" y1="30.1" x2="117.61" y2="34.1" stroke="#000" stroke-width="1"/>
<line x1="127.17" y1="208.8" x2="127.17" y2="204.8" stroke="#000" stroke-width="1"/>
<line x1="127.17" y1="30.1" x2="127.17" y2="34.1" stroke="#000" stroke-width="1"/>
<line x1="136.73" y1="208.8" x2="136.73" y2="200.8" stroke="#000" stroke-width="1.6"/>
<line x1="136.73" y1="30.1" x2="136.73" y2="38.1" stroke="#000" stroke-width="1.6"/>
<line x1="146.3" y1="208.8" x2="146.3" y2="204.8" stroke="#000" stroke-width="1"/>
<line x1="146.3" y1="30.1" x2="146.3" y2="34.1" stroke="#000" stroke-width="1"/>
<line x1="155.86" y1="208.8" x2="155.86" y2="204.8" stroke="#000" stroke-width="1"/>
<line x1="155.86" y1="30.1" x2="155.86" y2="34.1" stroke="#000" stroke-width="1"/>
<line x1="165.42" y1="208.8" x2="165.42" y2="204.8" stroke="#000" stroke-width="1"/>
<line x1="165.42" y1="30.1" x2="165.42" y2="34.1" stroke="#000" stroke-width="1"/>
<line x1="174.99" y1="208.8" x2="174.99" y2="204.8" stroke="#000" stroke-width="1"/>
<line x1="174.99" y1="30.1" x2="174.99" y2="34.1" stroke="#000" stroke-width="1"/>
<line x1="184.55" y1="208.8" x2="184.55" y2="200.8" stroke="#000" stroke-width="1.6"/>
<line x1="184.55" y1="30.1" x2="184.55" y2="38.1" stroke="#000" stroke-width="1.6"/>
<line x1="194.11" y1="208.8" x2="194.11" y2="204.8" stroke="#000" stroke-width="1"/>
<line x1="194.11" y1="30.1" x2="194.11" y2="34.1" stroke="#000" stroke-width="1"/>
<line x1="203.68" y1="208.8" x2="203.68" y2="204.8" stroke="#000" stroke-width="1"/>
<line x1="203.68" y1="30.1" x2="203.68" y2="34.1" stroke="#000" stroke-width="1"/>
<line x1="213.24" y1="208.8" x2="213.24" y2="204.8" stroke="#000" stroke-width="1"/>
<line x1="213.24" y1="30.1" x2="213.24" y2="34.1" stroke="#000" stroke-width="1"/>
<line x1="222.8" y1="208.8" x2="222.8" y2="204.8" stroke="#000" stroke-width="1"/>
<line x1="222.8" y1="30.1" x2="222.8" y2="34.1" stroke="#000" stroke-width="1"/>
<line x1="232.37" y1="208.8" x2="232.37" y2="200.8" stroke="#000" stroke-width="1.6"/>
<line x1="232.37" y1="30.1" x2="232.37" y2="38.1" stroke="#000" stroke-width="1.6"/>
<line x1="241.93" y1="208.8" x2="241.93" y2="204.8" stroke="#000" stroke-width="1"/>
<line x1="241.93" y1="30.1" x2="241.93" y2="34.1" stroke="#000" stroke-width="1"/>
<line x1="251.49" y1="208.8" x2="251.49" y2="204.8" stroke="#000" stroke-width="1"/>
<line x1="251.49" y1="30.1" x2="251.49" y2="34.1" stroke="#000" stroke-width="1"/>
<line x1="261.06" y1="208.8" x2="261.06" y2="204.8" stroke="#000" stroke-width="1"/>
<line x1="261.06" y1="30.1" x2="261.06" y2="34.1" stroke="#000" stroke-width="1"/>
<line x1="270.62" y1="208.8" x2="270.62" y2="204.8" stroke="#000" stroke-width="1"/>
<line x1="270.62" y1="30.1" x2="270.62" y2="34.1" stroke="#000" stroke-width="1"/>
<line x1="280.18" y1="208.8" x2="280.18" y2="200.8" stroke="#000" stroke-width="1.6"/>
<line x1="280.18" y1="30.1" x2="280.18" y2="38.1" stroke="#000" stroke-width="1.6"/>
<line x1="289.75" y1="208.8" x2="289.75" y2="204.8" stroke="#000" stroke-width="1"/>
<line x1="289.75" y1="30.1" x2="289.75" y2="34.1" stroke="#000" stroke-width="1"/>
<line x1="299.31" y1="208.8" x2="299.31" y2="204.8" stroke="#000" stroke-width="1"/>
<line x1="299.31" y1="30.1" x2="299.31" y2="34.1" stroke="#000" stroke-width="1"/>
<line x1="308.87" y1="208.8" x2="308.87" y2="204.8" stroke="#000" stroke-width="1"/>
<line x1="308.87" y1="30.1" x2="308.87" y2="34.1" stroke="#000" stroke-width="1"/>
<line x1="318.44" y1="208.8" x2="318.44" y2="204.8" stroke="#000" stroke-width="1"/>
<line x1="318.44" y1="30.1" x2="318.44" y2="34.1" stroke="#000" stroke-width="1"/>
<line x1="328" y1="208.8" x2="328" y2="200.8" stroke="#000" stroke-width="1.6"/>
<line x1="328" y1="30.1" x2="328" y2="38.1" stroke="#000" stroke-width="1.6"/>
<line x1="41.1" y1="208.8" x2="49.1" y2="208.8" stroke="#000" stroke-width="1.6"/>
<line x1="328" y1="208.8" x2="320" y2="208.8" stroke="#000" stroke-width="1.6"/>
<line x1="41.1" y1="199.87" x2="45.1" y2="199.87" stroke="#000" stroke-width="1"/>
<line x1="328" y1="199.87" x2="324" y2="199.87" stroke="#000" stroke-width="1"/>
<line x1="41.1" y1="190.93" x2="45.1" y2="190.93" stroke="#000" stroke-width="1"/>
<line x1="328" y1="190.93" x2="324" y2="190.93" stroke="#000" stroke-width="1"/>
<line x1="41.1" y1="182" x2="45.1" y2="182" stroke="#000" stroke-width="1"/>
<line x1="328" y1="182" x2="324" y2="182" stroke="#000" stroke-width="1"/>
<line x1="41.1" y1="173.06" x2="45.1" y2="173.06" stroke="#000" stroke-width="1"/>
<line x1="328" y1="173.06" x2="324" y2="173.06" stroke="#000" stroke-width="1"/>
<line x1="41.1" y1="164.12" x2="49.1" y2="164.12" stroke="#000" stroke-width="1.6"/>
<line x1="328" y1="164.12" x2="320" y2="164.12" stroke="#000" stroke-width="1.6"/>
<line x1="41.1" y1="155.19" x2="45.1" y2="155.19" stroke="#000" stroke-width="1"/>
<line x1="328" y1="155.19" x2="324" y2="155.19" stroke="#000" stroke-width="1"/>
<line x1="41.1" y1="146.25" x2="45.1" y2="146.25" stroke="#000" stroke-width="1"/>
<line x1="328" y1="146.25" x2="324" y2="146.25" stroke="#000" stroke-width="1"/>
<line x1="41.1" y1="137.32" x2="45.1" y2="137.32" stroke="#000" stroke-width="1"/>
<line x1="328" y1="137.32" x2="324" y2="137.32" stroke="#000" stroke-width="1"/>
<line x1="41.1" y1="128.38" x2="45.1" y2="128.38" stroke="#000" stroke-width="1"/>
<line x1="328" y1="128.38" x2="324" y2="128.38" stroke="#000" stroke-width="1"/>
<line x1="41.1" y1="119.45" x2="49.1" y2="119.45" stroke="#000" stroke-width="1.6"/>
<line x1="328" y1="119.45" x2="320" y2="119.45" stroke="#000" stroke-width="1.6"/>
<line x1="41.1" y1="110.52" x2="45.1" y2="110.52" stroke="#000" stroke-width="1"/>
<line x1="328" y1="110.52" x2="324" y2="110.52" stroke="#000" stroke-width="1"/>
<line x1="41.1" y1="101.58" x2="45.1" y2="101.58" stroke="#000" stroke-width="1"/>
<line x1="328" y1="101.58" x2="324" y2="101.58" stroke="#000" stroke-width="1"/>
<line x1="41.1" y1="92.64" x2="45.1" y2="92.64" stroke="#000" stroke-width="1"/>
<line x1="328" y1="92.64" x2="324" y2="92.64" stroke="#000" stroke-width="1"/>
<line x1="41.1" y1="83.71" x2="45.1" y2="83.71" stroke="#000" stroke-width="1"/>
<line x1="328" y1="83.71" x2="324" y2="83.71" stroke="#000" stroke-width="1"/>
<line x1="41.1" y1="74.77" x2="49.1" y2="74.77" stroke="#000" stroke-width="1.6"/>
<line x1="328" y1="74.77" x2="320" y2="74.77" stroke="#000" stroke-width="1.6"/>
<line x1="41.1" y1="65.84" x2="45.1" y2="65.84" stroke="#000" stroke-width="1"/>
<line x1="328" y1="65.84" x2="324" y2="65.84" stroke="#000" stroke-width="1"/>
<line x1="41.1" y1="56.91" x2="45.1" y2="56.91" stroke="#000" stroke-width="1"/>
<line x1="328" y1="56.91" x2="324" y2="56.91" stroke="#000" stroke-width="1"/>
<line x1="41.1" y1="47.97" x2="45.1" y2="47.97" stroke="#000" stroke-width="1"/>
<line x1="328" y1="47.97" x2="324" y2="47.97" stroke="#000" stroke-width="1"/>
<line x1="41.1" y1="39.03" x2="45.1" y2="39.03" stroke="#000" stroke-width="1"/>
<line x1="328" y1="39.03" x2="324" y2="39.03" stroke="#000" stroke-width="1"/>
<line x1="41.1" y1="30.1" x2="49.1" y2="30.1" stroke="#000" stroke-width="1.6"/>
<line x1="328" y1="30.1" x2="320" y2="30.1" stroke="#000" stroke-width="1.6"/>
<text transform="translate(35.9,34.9) scale(0.9,1)" text-anchor="end" class="tl">10</text>
<text transform="translate(35.9,79.57) scale(0.9,1)" text-anchor="end" class="tl">5</text>
<text transform="translate(35.9,124.25) scale(0.9,1)" text-anchor="end" class="tl">0</text>
<text transform="translate(35.9,168.93) scale(0.9,1)" text-anchor="end" class="tl">5</text>
<line x1="21.84" y1="165.93" x2="29.24" y2="165.93" stroke="#222" stroke-width="0.75"/>
<text transform="translate(35.9,213.6) scale(0.9,1)" text-anchor="end" class="tl">10</text>
<line x1="16.38" y1="210.6" x2="23.78" y2="210.6" stroke="#222" stroke-width="0.75"/>
<text transform="translate(41.1,223.6) scale(0.9,1)" text-anchor="middle" class="tl">0</text>
<text transform="translate(88.92,223.6) scale(0.9,1)" text-anchor="middle" class="tl">25</text>
<text transform="translate(136.73,223.6) scale(0.9,1)" text-anchor="middle" class="tl">50</text>
<text transform="translate(184.55,223.6) scale(0.9,1)" text-anchor="middle" class="tl">75</text>
<text transform="translate(232.37,223.6) scale(0.9,1)" text-anchor="middle" class="tl">100</text>
<text transform="translate(280.18,223.6) scale(0.9,1)" text-anchor="middle" class="tl">125</text>
<text transform="translate(328,223.6) scale(0.9,1)" text-anchor="middle" class="tl">150</text>
<text transform="translate(173.7,236.9) scale(1.15,1)" text-anchor="start" class="tl it">x</text>
<line x1="181.3" y1="240" x2="185.5" y2="228.3" stroke="#222" stroke-width="0.8"/>
<text transform="translate(186.3,236.9) scale(1,1)" text-anchor="start" class="tl it">δ</text>
<text transform="translate(191.9,238.8) scale(0.95,1)" text-anchor="start" class="ts">0</text>
<g transform="translate(10.5,136.4) rotate(-90)">
<text x="0" y="0" class="tl yl">%<tspan class="it" font-size="15" dx="0.2">E</tspan><tspan class="it" font-size="10.4" dy="1.7" dx="-0.6">VK</tspan></text>
</g>
<line x1="389.3" y1="83.71" x2="676" y2="83.71" stroke="#000" stroke-width="1.1" stroke-dasharray="4.07 1.76"/>
<line x1="389.3" y1="155.19" x2="676" y2="155.19" stroke="#000" stroke-width="1.1" stroke-dasharray="4.07 1.76"/>
<line x1="389.3" y1="101.58" x2="676" y2="101.58" stroke="#000" stroke-width="1.1" stroke-dasharray="1.1 1.81"/>
<line x1="389.3" y1="137.32" x2="676" y2="137.32" stroke="#000" stroke-width="1.1" stroke-dasharray="1.1 1.81"/>
<g clip-path="url(#cb)" fill="none" stroke-linejoin="round">
<polyline points="447,213.92 447.25,214.11 447.5,212.19 447.75,211.94 448,209.07 448.25,205.95 448.5,208.07 448.75,207.13 449,208.34 449.25,206.42 449.5,205.71 449.75,207.31 450,204.23 450.25,203.74 450.5,203.13 450.75,200.61 451,198.92 451.25,197.75 451.5,197.09 451.75,196.15 452,197.75 452.25,198.28 452.5,200.05 452.75,198.28 453,196.1 453.25,195.46 453.5,192.68 453.75,191.31 454,189.18 454.25,187.73 454.5,185.18 454.75,185.09 455,182.92 455.25,183.65 455.5,185.57 455.75,181.67 456,178.9 456.25,175.77 456.5,174.31 456.75,172.88 457,172.63 457.25,174.78 457.5,175.33 457.75,176.63 458,176.56 458.25,179.17 458.5,177.43 458.75,175.96 459,174.6 459.25,173.73 459.5,173.45 459.75,171.52 460,171.43 460.25,170.92 460.5,171.48 460.75,171.16 461,170.52 461.25,168.8 461.5,169.11 461.75,168.17 462,166.39 462.25,165.37 462.5,163.36 462.75,162.35 463,161.91 463.25,165.31 463.5,166.23 463.75,164.73 464,163.06 464.25,162.8 464.5,162.81 464.75,160.96 465,158.96 465.25,159.62 465.5,159.55 465.75,159.19 466,159.06 466.25,159.35 466.5,158.9 466.75,159.06 467,157.74 467.25,158.32 467.5,156.31 467.75,156.53 468,152.55 468.25,153.48 468.5,153.95 468.75,153.49 469,154.52 469.25,155.2 469.5,155.48 469.75,154.09 470,153.31 470.25,152.99 470.5,152.05 470.75,150.12 471,149.03 471.25,148.82 471.5,149.39 471.75,147.87 472,147.66 472.25,148.68 472.5,147.78 472.75,147.43 473,146.47 473.25,145.2 473.5,142.58 473.75,142.48 474,140.23 474.25,142.56 474.5,141.74 474.75,142.64 475,144.65 475.25,144.14 475.5,142.94 475.75,142.24 476,141.85 476.25,140.4 476.5,139.42 476.75,140.08 477,139.06 477.25,139.47 477.5,139.73 477.75,142.36 478,143.6 478.25,144.3 478.5,143.49 478.75,143.48 479,144.3 479.25,144.14 479.5,147.74 479.75,150.43 480,152.23 480.25,155.52 480.5,158.32 480.75,162.44 481,164.67 481.25,163.41 481.5,164.15 481.75,163.14 482,165.63 482.25,166.33 482.5,167.78 482.75,169.87 483,168.97 483.25,170.73 483.5,171.76 483.75,171.52 484,172.45 484.25,170.79 484.5,166.38 484.75,163.78 485,163.53 485.25,162.75 485.5,161.6 485.75,162.04 486,160.81 486.25,157.97 486.5,155.79 486.75,152.53 487,150.52 487.25,147.22 487.5,143.66 487.75,141.41 488,140.22 488.25,138.41 488.5,137.13 488.75,139.1 489,138.95 489.25,140.45 489.5,139.18 489.75,138.2 490,136.76 490.25,136.5 490.5,134.22 490.75,133.76 491,134.94 491.25,135.22 491.5,136.49 491.75,137.22 492,138.19 492.25,139.13 492.5,136.93 492.75,136.74 493,135.68 493.25,135.01 493.5,134.38 493.75,135.51 494,136.81 494.25,138.1 494.5,138.57 494.75,137.39 495,135.02 495.25,133.92 495.5,132.43 495.75,129.36 496,127 496.25,124.96 496.5,124.05 496.75,125.34 497,126.22 497.25,126.69 497.5,124.89 497.75,123.19 498,124.64 498.25,124.78 498.5,123.05 498.75,123.32 499,123.06 499.25,123.48 499.5,123.59 499.75,127.75 500,128.06 500.25,130.78 500.5,131.27 500.75,131.56 501,131.43 501.25,131.82 501.5,130.1 501.75,130.06 502,129.62 502.25,129.57 502.5,133.64 502.75,134.88 503,134.4 503.25,133.81 503.5,130.67 503.75,129.67 504,129.45 504.25,127.61 504.5,124.98 504.75,123.92 505,125.52 505.25,126.99 505.5,125.8 505.75,126.59 506,127.76 506.25,127.19 506.5,127.57 506.75,127.5 507,126.73 507.25,126.23 507.5,126.38 507.75,128.26 508,128.64 508.25,131 508.5,133 508.75,129.63 509,127.39 509.25,127.62 509.5,127.09 509.75,126.41 510,125.24 510.25,124.14 510.5,124.7 510.75,126.81 511,125.58 511.25,127.87 511.5,127.45 511.75,128.16 512,126.97 512.25,125.88 512.5,124.68 512.75,122.89 513,124.6 513.25,125.12 513.5,126.12 513.75,127.67 514,127.28 514.25,127.64 514.5,127.29 514.75,126.86 515,126.94 515.25,124.88 515.5,125.58 515.75,124.08 516,123.83 516.25,123.73 516.5,125.83 516.75,127.04 517,125.94 517.25,129.03 517.5,128.47 517.75,126.02 518,124.68 518.25,125.82 518.5,125.28 518.75,124.09 519,125.31 519.25,125.78 519.5,126.35 519.75,125.15 520,128.12 520.25,127.05 520.5,126.68 520.75,125.45 521,125.25 521.25,123.31 521.5,123.49 521.75,125.28 522,126.7 522.25,126.04 522.5,128.2 522.75,127.38 523,125.39 523.25,125.6 523.5,122.27 523.75,122.31 524,119.65 524.25,120.01 524.5,120.47 524.75,122.67 525,126.16 525.25,127.5 525.5,127.74 525.75,126.81 526,126.91 526.25,124.83 526.5,124.46 526.75,124.65 527,123.6 527.25,123.28 527.5,125.85 527.75,127.85 528,129.71 528.25,131.23 528.5,129.76 528.75,128.93 529,126.88 529.25,125.34 529.5,123.39 529.75,123.2 530,122.52 530.25,124.68 530.5,126.76 530.75,128.53 531,127.95 531.25,125.74 531.5,126.05 531.75,124.14 532,124.61 532.25,122.99 532.5,122.95 532.75,124.71 533,124.66 533.25,127.24 533.5,126.94 533.75,127.92 534,130.69 534.25,132.29 534.5,128.95 534.75,127.84 535,124.9 535.25,124.18 535.5,123.5 535.75,122.64 536,124.12 536.25,125.28 536.5,127.66 536.75,127.2 537,126.11 537.25,124.9 537.5,122.65 537.75,124.26 538,121.8 538.25,121.13 538.5,123.33 538.75,122.33 539,125.6 539.25,127.11 539.5,129.14 539.75,131.4 540,129.79 540.25,125.3 540.5,123.96 540.75,122.85 541,123.24 541.25,122.6 541.5,122.91 541.75,125.47 542,125.98 542.25,126.28 542.5,124.19 542.75,126.42 543,121.81 543.25,123.17 543.5,124.46 543.75,121.85 544,122.22 544.25,122.25 544.5,125.67 544.75,124.8 545,127.44 545.25,128.63 545.5,126.62 545.75,126.29 546,122.43 546.25,121.13 546.5,120.02 546.75,120.46 547,122.06 547.25,123.31 547.5,123.19 547.75,123.8 548,124.66 548.25,124.01 548.5,123.99 548.75,122.15 549,121.66 549.25,120.27 549.5,119.1 549.75,122.23 550,122.29 550.25,124.94 550.5,127.99 550.75,125.99 551,126.09 551.25,123.9 551.5,123.83 551.75,122 552,122 552.25,120.93 552.5,121.99 552.75,123.76 553,123.22 553.25,124.08 553.5,124.03 553.75,123.27 554,121.54 554.25,119.47 554.5,119.75 554.75,119.81 555,117.7 555.25,117.64 555.5,121.39 555.75,121.71 556,123.56 556.25,125.06 556.5,124.85 556.75,123.91 557,124.21 557.25,120.78 557.5,118.5 557.75,118.92 558,120.2 558.25,119.92 558.5,122.4 558.75,123.81 559,124.33 559.25,123.81 559.5,120.95 559.75,119.36 560,120.64 560.25,119.19 560.5,115.75 560.75,116.06 561,116.05 561.25,117.98 561.5,119.21 561.75,119.26 562,118.86 562.25,117.87 562.5,116.62 562.75,113.95 563,111.79 563.25,114.09 563.5,114.05 563.75,116.45 564,117.7 564.25,118.14 564.5,117.17 564.75,116.58 565,116.5 565.25,113.89 565.5,114.27 565.75,113.07 566,111.63 566.25,111.63 566.5,109.51 566.75,112.07 567,111.69 567.25,112.97 567.5,113.85 567.75,116.16 568,114.91 568.25,112.9 568.5,109.12 568.75,108.98 569,110.81 569.25,110.66 569.5,113.08 569.75,113.42 570,115.98 570.25,114.46 570.5,112.23 570.75,113.97 571,111.79 571.25,110.17 571.5,109.83 571.75,109.39 572,111.15 572.25,110.93 572.5,113.7 572.75,113.63 573,112.32 573.25,112.82 573.5,112.99 573.75,111.1 574,111.84 574.25,111.14 574.5,109.81 574.75,110.92 575,112.8 575.25,114.64 575.5,115.74 575.75,115.51 576,117.24 576.25,116 576.5,114.47 576.75,110.8 577,109.64 577.25,107.7 577.5,108.65 577.75,110.2 578,111.45 578.25,110.53 578.5,112.09 578.75,113.42 579,114.22 579.25,112.44 579.5,112.07 579.75,110.55 580,110.77 580.25,110.22 580.5,109.63 580.75,109.94 581,112.93 581.25,114.93 581.5,115.07 581.75,116.68 582,114.92 582.25,113.31 582.5,114.15 582.75,112.77 583,112.48 583.25,110.4 583.5,112.24 583.75,112.17 584,113.97 584.25,113.41 584.5,113.9 584.75,113.99 585,114.65 585.25,112.79 585.5,111.32 585.75,110.4 586,110.89 586.25,113.57 586.5,111.48 586.75,112.9 587,114.82 587.25,115.72 587.5,113.85 587.75,113.87 588,113.09 588.25,112.48 588.5,110.85 588.75,112.99 589,113.19 589.25,115.8 589.5,115.04 589.75,117.6 590,115.39 590.25,114.76 590.5,115.97 590.75,114.32 591,114.89 591.25,113.17 591.5,115.77 591.75,114.99 592,114.68 592.25,116.49 592.5,117.77 592.75,116.95 593,118.51 593.25,119.52 593.5,117.88 593.75,116.48 594,115.52 594.25,115.95 594.5,114.11 594.75,114.44 595,118.1 595.25,117.99 595.5,119.38 595.75,117.04 596,114.99 596.25,113.77 596.5,114.1 596.75,111.97 597,111.16 597.25,113.27 597.5,115.98 597.75,118.6 598,121.21 598.25,123.58 598.5,122.36 598.75,117.86 599,119.73 599.25,115.94 599.5,116.35 599.75,116.39 600,119 600.25,120.79 600.5,122.58 600.75,125.13 601,124.74 601.25,122.37 601.5,122.09 601.75,121.32 602,119.77 602.25,117.41 602.5,116.05 602.75,114.87 603,114.38 603.25,114.72 603.5,117.7 603.75,116.58 604,117.32 604.25,117 604.5,117.63 604.75,116.79 605,113.86 605.25,113.29 605.5,112.88 605.75,116.66 606,117.77 606.25,118.09 606.5,121.59 606.75,120.87 607,119.31 607.25,117.64 607.5,115.03 607.75,113.47 608,112.76 608.25,111.82 608.5,112.08 608.75,115.7 609,114.98 609.25,115.81 609.5,116.78 609.75,119.07 610,118.45 610.25,116.47 610.5,115.54 610.75,112.1 611,111.74 611.25,112.09 611.5,114.74 611.75,117.51 612,117.11 612.25,120.56 612.5,116.23 612.75,116.17 613,115.45 613.25,114.3 613.5,112.73 613.75,110.42 614,112.42 614.25,114.4 614.5,113.49 614.75,113.93 615,113.42 615.25,117 615.5,116.52 615.75,114.48 616,114.16 616.25,113.22 616.5,111.45 616.75,113.33 617,115.11 617.25,116.71 617.5,118.72 617.75,118.98 618,119.86 618.25,119.87 618.5,117.69 618.75,115.8 619,116.42 619.25,113.84 619.5,113.08 619.75,113.9 620,113.24 620.25,115.49 620.5,116.16 620.75,116.52 621,116.71 621.25,114.97 621.5,112.96 621.75,113.71 622,112.4 622.25,113.22 622.5,113.54 622.75,114.23 623,116.1 623.25,118.68 623.5,119.91 623.75,118.35 624,116.7 624.25,114.45 624.5,112.87 624.75,112.44 625,113.09 625.25,114.67 625.5,114.78 625.75,115.62 626,116.94 626.25,117.7 626.5,118.28 626.75,117.18 627,114.35 627.25,112.83 627.5,113.8 627.75,112.56 628,110.13 628.25,112.73 628.5,114.27 628.75,117.04 629,115.76 629.25,115.74 629.5,114.67 629.75,112.95 630,112.94 630.25,111.95 630.5,112.66 630.75,111.06 631,111.8 631.25,114.9 631.5,116.5 631.75,118 632,118.91 632.25,117.68 632.5,116.29 632.75,114.35 633,112.7 633.25,110.55 633.5,113.14 633.75,114.2 634,114.08 634.25,115.9 634.5,116.82 634.75,115.28 635,115.5 635.25,114.87 635.5,113.7 635.75,113.02 636,111.73 636.25,113.54 636.5,112.85 636.75,113.44 637,115.5 637.25,115.18 637.5,116.18 637.75,115.91 638,114.14 638.25,113.17 638.5,112.85 638.75,111.81 639,109.86 639.25,111.03 639.5,114.26 639.75,114.51 640,113.47 640.25,115.12 640.5,115.61 640.75,114.01 641,114.49 641.25,113.37 641.5,113 641.75,110.89 642,111.74 642.25,114.62 642.5,115.44 642.75,120.35 643,120.06 643.25,118.85 643.5,117.24 643.75,115.26 644,114.39 644.25,114.69 644.5,113.86 644.75,113.1 645,112.96 645.25,114.37 645.5,114.79 645.75,113.86 646,114.37 646.25,113.95 646.5,112.88 646.75,110.79 647,110.88 647.25,109.3 647.5,110.05 647.75,109.13 648,112.2 648.25,114.98 648.5,117.16 648.75,118.44 649,115.57 649.25,113.81 649.5,115.59 649.75,115.11 650,114.28 650.25,112.45 650.5,113.73 650.75,115.09 651,115.59 651.25,116.63 651.5,117.03 651.75,115.63 652,117.14 652.25,113.63 652.5,113.96 652.75,114.69 653,113.15 653.25,113.22 653.5,113.65 653.75,114.82 654,117.35 654.25,116.96 654.5,117.41 654.75,116.05 655,116.71 655.25,115.55 655.5,114.09 655.75,113.95 656,114.63 656.25,115.92 656.5,115.4 656.75,116.38 657,118.12 657.25,116.24 657.5,115.22 657.75,115.39 658,113.25 658.25,111.32 658.5,112.57 658.75,113.06 659,114.76 659.25,115.12 659.5,117.18 659.75,116.6 660,116.93 660.25,117.25 660.5,116.22 660.75,116.59 661,115.39 661.25,114.42 661.5,115.11 661.75,115.61 662,115.92 662.25,117.46 662.5,117.7 662.75,117.37 663,117.28 663.25,117.27 663.5,116.22 663.75,116.57 664,115.5 664.25,113.67 664.5,115.35 664.75,116.21 665,116.08 665.25,117.97 665.5,119.41 665.75,117.82 666,117.56 666.25,116.16 666.5,115.52 666.75,114.08 667,115.52 667.25,115.82 667.5,117.7 667.75,116.65 668,119.27 668.25,119.97 668.5,118.79 668.75,117.61 669,117.39 669.25,115.52 669.5,114.86 669.75,114.58 670,115.16 670.25,117.13 670.5,116.63 670.75,119.23 671,116.45 671.25,116.48 671.5,116.44 671.75,116.73 672,114.44 672.25,112.44 672.5,115.12 672.75,115.68 673,115.72 673.25,116.82 673.5,118.22 673.75,119.99 674,119.32 674.25,116.25 674.5,118.13 674.75,114.81 675,113.13 675.25,114.14 675.5,115.16 675.75,118.55 676,119.07 676.25,119.36 676.5,120.92 676.75,122.36" stroke="#8a8a8a" stroke-width="1.65"/>
<polyline points="452.5,209.96 452.8,210.12 453.1,210.54 453.4,210.5 453.7,211.82 454,211.52 454.3,211.19 454.6,208.47 454.9,207.55 455.2,205.17 455.5,203.6 455.8,201.45 456.1,199.2 456.4,197.25 456.7,196.11 457,196.04 457.3,196.58 457.6,197.2 457.9,198.02 458.2,198.57 458.5,199.47 458.8,197.03 459.1,196.08 459.4,193.97 459.7,193.16 460,191.64 460.3,191.02 460.6,190.1 460.9,189.73 461.2,190.24 461.5,190.21 461.8,189.99 462.1,190.07 462.4,189.85 462.7,190.87 463,188.76 463.3,188.1 463.6,186.09 463.9,184.96 464.2,184.21 464.5,183.85 464.8,184.88 465.1,184.7 465.4,185.94 465.7,186.93 466,186.05 466.3,185.64 466.6,184.04 466.9,183.73 467.2,182.91 467.5,182.66 467.8,180.78 468.1,180.23 468.4,179.67 468.7,177.84 469,177.94 469.3,177.71 469.6,177.86 469.9,178.49 470.2,178.55 470.5,179.4 470.8,178.96 471.1,178.32 471.4,176.36 471.7,176.14 472,176.18 472.3,174.99 472.6,176.43 472.9,176.07 473.2,177.96 473.5,180.31 473.8,182.19 474.1,183.25 474.4,182.32 474.7,181.72 475,180.5 475.3,179.09 475.6,178.51 475.9,177.65 476.2,176.76 476.5,177.6 476.8,177.38 477.1,179.25 477.4,179.88 477.7,181.16 478,182.42 478.3,184.23 478.6,184.55 478.9,183.92 479.2,182.22 479.5,178.83 479.8,176.71 480.1,177.72 480.4,179.31 480.7,181.85 481,183.46 481.3,186.1 481.6,187.89 481.9,189.56 482.2,192.68 482.5,193.29 482.8,193.27 483.1,190.33 483.4,187.89 483.7,185.41 484,183.94 484.3,184.51 484.6,183.68 484.9,184.26 485.2,185.05 485.5,184.38 485.8,184.02 486.1,184.03 486.4,183.06 486.7,182.69 487,181.54 487.3,180.17 487.6,177.77 487.9,174.92 488.2,174.13 488.5,173.2 488.8,173.93 489.1,173.57 489.4,172.97 489.7,172.6 490,171.68 490.3,172.4 490.6,171.74 490.9,171.41 491.2,170.07 491.5,167.44 491.8,165.41 492.1,163.51 492.4,163.06 492.7,164.5 493,163.19 493.3,162.93 493.6,163.52 493.9,161.82 494.2,163.18 494.5,163.05 494.8,161.73 495.1,161.56 495.4,159.64 495.7,159.69 496,159.04 496.3,156.51 496.6,155.71 496.9,155.61 497.2,155.77 497.5,155.59 497.8,156.11 498.1,156.12 498.4,155.46 498.7,156.11 499,155.46 499.3,151.56 499.6,147.35 499.9,144.87 500.2,140.24 500.5,139.1 500.8,137.99 501.1,140.16 501.4,142.22 501.7,143.72 502,145.82 502.3,147.5 502.6,148.21 502.9,147.37 503.2,146.84 503.5,146.92 503.8,145.29 504.1,144.39 504.4,143.09 504.7,143.77 505,144.03 505.3,145.37 505.6,145.93 505.9,146.78 506.2,148.07 506.5,147.49 506.8,147.86 507.1,144.72 507.4,143.86 507.7,140.92 508,138.91 508.3,137.29 508.6,138.67 508.9,138.53 509.2,139.01 509.5,139.41 509.8,140.89 510.1,141.3 510.4,142.45 510.7,143.66 511,144.53 511.3,143.23 511.6,143.31 511.9,143.25 512.2,140.99 512.5,141.83 512.8,142.22 513.1,142.29 513.4,144.28 513.7,144.55 514,146.63 514.3,147.03 514.6,146.05 514.9,144.21 515.2,143.03 515.5,141.97 515.8,140.59 516.1,139.37 516.4,138.27 516.7,136.52 517,138.09 517.3,139.8 517.6,139.74 517.9,142.39 518.2,141.52 518.5,140.91 518.8,140.37 519.1,140.19 519.4,139.77 519.7,139.9 520,138.6 520.3,139.41 520.6,137.98 520.9,138.28 521.2,139.95 521.5,140.16 521.8,142.81 522.1,144.82 522.4,144.81 522.7,145.97 523,144.01 523.3,142.56 523.6,140.89 523.9,139.15 524.2,138.47 524.5,139.51 524.8,139.94 525.1,141.71 525.4,142.43 525.7,143.17 526,143.36 526.3,145.77 526.6,146.23 526.9,143.56 527.2,143.42 527.5,143.03 527.8,143.05 528.1,142.48 528.4,140.88 528.7,140.42 529,141.49 529.3,141.34 529.6,143.3 529.9,143.65 530.2,144.79 530.5,145.52 530.8,144.13 531.1,143.2 531.4,142.78 531.7,141.8 532,140.51 532.3,140.18 532.6,138.34 532.9,137.3 533.2,139.32 533.5,140.97 533.8,142.58 534.1,144.91 534.4,145.12 534.7,144.33 535,142.91 535.3,141.32 535.6,140.86 535.9,138.95 536.2,138.32 536.5,138.6 536.8,140.27 537.1,141 537.4,142.39 537.7,144.24 538,145.56 538.3,145.24 538.6,143.38 538.9,142.65 539.2,140.99 539.5,139.22 539.8,138.26 540.1,136.86 540.4,137.09 540.7,138.91 541,138.27 541.3,138.82 541.6,140.05 541.9,139.75 542.2,140.05 542.5,140.24 542.8,140.45 543.1,139.84 543.4,139.26 543.7,138.27 544,137.5 544.3,138.13 544.6,136.19 544.9,137.65 545.2,138.32 545.5,140.17 545.8,141.56 546.1,143.62 546.4,142.4 546.7,146.24 547,144.42 547.3,143.16 547.6,141.49 547.9,138.58 548.2,136.99 548.5,135.3 548.8,135.14 549.1,135.41 549.4,136.63 549.7,137.25 550,136.99 550.3,139.41 550.6,139.47 550.9,137.7 551.2,137.89 551.5,138.66 551.8,137.89 552.1,136.41 552.4,134.58 552.7,134.72 553,135.25 553.3,136.29 553.6,137.3 553.9,138.48 554.2,140.82 554.5,141.53 554.8,140.94 555.1,139.32 555.4,138.27 555.7,135.66 556,134.71 556.3,133.73 556.6,135.78 556.9,135.88 557.2,135.6 557.5,134.51 557.8,135.87 558.1,136.65 558.4,138.22 558.7,136.68 559,135.37 559.3,133.95 559.6,132.82 559.9,130.55 560.2,131.53 560.5,132.14 560.8,133.47 561.1,134.24 561.4,135.3 561.7,135.41 562,136.83 562.3,137 562.6,139.54 562.9,136.27 563.2,136.48 563.5,134.24 563.8,130.76 564.1,130.3 564.4,128.32 564.7,125.37 565,125.13 565.3,126.23 565.6,127.99 565.9,128.78 566.2,130.84 566.5,131.73 566.8,130.74 567.1,129.86 567.4,129.52 567.7,128.35 568,128.45 568.3,126 568.6,127.77 568.9,126.35 569.2,128.53 569.5,130.75 569.8,131.48 570.1,132.86 570.4,130.02 570.7,130.14 571,129.16 571.3,128.88 571.6,127.22 571.9,125.52 572.2,125.72 572.5,123.23 572.8,123.84 573.1,124.55 573.4,128.14 573.7,129.37 574,131.47 574.3,130.54 574.6,129.66 574.9,129.07 575.2,128.93 575.5,126.93 575.8,126.82 576.1,125.25 576.4,125.26 576.7,124.66 577,124.06 577.3,125.22 577.6,126.42 577.9,127.61 578.2,128.22 578.5,127.01 578.8,125.81 579.1,124.75 579.4,125.51 579.7,125.27 580,124.07 580.3,124.46 580.6,124.4 580.9,125.58 581.2,127.9 581.5,127.48 581.8,129.59 582.1,129.18 582.4,127.43 582.7,126.81 583,123.7 583.3,122.32 583.6,119.63 583.9,119.1 584.2,120.16 584.5,121.01 584.8,121.87 585.1,122.96 585.4,123.11 585.7,123.16 586,125.3 586.3,126.29 586.6,126.31 586.9,125.89 587.2,126.07 587.5,124.34 587.8,123.02 588.1,121.43 588.4,119.73 588.7,118.21 589,122.09 589.3,124.79 589.6,127.82 589.9,131.22 590.2,130.49 590.5,129.92 590.8,127.75 591.1,128.82 591.4,125.65 591.7,124.9 592,124.6 592.3,122.39 592.6,122.04 592.9,123.75 593.2,123.34 593.5,126.28 593.8,127.44 594.1,129.24 594.4,128.38 594.7,127.12 595,126.25 595.3,124.88 595.6,123.35 595.9,121.46 596.2,120.93 596.5,118.47 596.8,117.77 597.1,120.56 597.4,122.97 597.7,124.4 598,127.02 598.3,127.17 598.6,126.19 598.9,125.66 599.2,123.16 599.5,122.6 599.8,122.41 600.1,121.16 600.4,120.91 600.7,121.44 601,122.76 601.3,123.61 601.6,125.15 601.9,126.44 602.2,127.26 602.5,127.6 602.8,130.28 603.1,128.9 603.4,127.9 603.7,126.64 604,124.44 604.3,124.65 604.6,124.12 604.9,124.99 605.2,127.7 605.5,127.92 605.8,129.44 606.1,130.98 606.4,132.59 606.7,130.58 607,129.22 607.3,128.09 607.6,125.29 607.9,121.72 608.2,121.81 608.5,119.86 608.8,118.8 609.1,120.54 609.4,122.18 609.7,124.65 610,126.57 610.3,128.26 610.6,130.7 610.9,130.28 611.2,128.71 611.5,129.23 611.8,128.3 612.1,127.43 612.4,124.44 612.7,125.3 613,125.91 613.3,126.68 613.6,128.92 613.9,128.9 614.2,130.41 614.5,128.41 614.8,126.38 615.1,126.03 615.4,123.97 615.7,122.38 616,119.94 616.3,119.58 616.6,118.65 616.9,117.35 617.2,118.59 617.5,122.87 617.8,125.7 618.1,127.94 618.4,129.76 618.7,127.82 619,126.99 619.3,125.96 619.6,125.25 619.9,124.23 620.2,122.22 620.5,120.47 620.8,119.92 621.1,119.79 621.4,122.58 621.7,122.22 622,124.51 622.3,126 622.6,126.17 622.9,126.6 623.2,124.94 623.5,123.6 623.8,122.63 624.1,122.43 624.4,122.23 624.7,119.87 625,122.39 625.3,122.94 625.6,123.58 625.9,125.04 626.2,126.2 626.5,127.26 626.8,128.81 627.1,126 627.4,123.92 627.7,119.52 628,116.21 628.3,116.44 628.6,118.64 628.9,119.43 629.2,121.17 629.5,122.23 629.8,123.97 630.1,123.77 630.4,125.35 630.7,125.61 631,124.82 631.3,123.83 631.6,120.65 631.9,118.48 632.2,116.76 632.5,117.85 632.8,118.7 633.1,119.06 633.4,119.18 633.7,120.79 634,120.74 634.3,121.6 634.6,122.54 634.9,122.4 635.2,119.56 635.5,120.74 635.8,118.95 636.1,118.81 636.4,120.4 636.7,119.56 637,121.04 637.3,122.81 637.6,124.52 637.9,124.89 638.2,126.25 638.5,127 638.8,124.51 639.1,123.84 639.4,123.04 639.7,120.85 640,120.38 640.3,120.23 640.6,119.7 640.9,120.76 641.2,121.39 641.5,121.7 641.8,122.33 642.1,122.95 642.4,123.3 642.7,123.68 643,122.16 643.3,120.79 643.6,119.23 643.9,117.67 644.2,117.96 644.5,117.17 644.8,119.67 645.1,119.68 645.4,121.48 645.7,123.43 646,123.87 646.3,125.98 646.6,124.28 646.9,124.08 647.2,123.31 647.5,123.12 647.8,122.29 648.1,121.6 648.4,121.27 648.7,121.21 649,121.08 649.3,121.63 649.6,122 649.9,122.3 650.2,122.4 650.5,122.3 650.8,122.46 651.1,120.9 651.4,122.04 651.7,120.98 652,120.29 652.3,120.16 652.6,120.54 652.9,120.23 653.2,121.43 653.5,123.58 653.8,125.19 654.1,124.29 654.4,126.9 654.7,124.87 655,123.5 655.3,123.04 655.6,122.99 655.9,121.17 656.2,120.02 656.5,120.07 656.8,118.44 657.1,118.25 657.4,120.44 657.7,120.72 658,121.05 658.3,121.82 658.6,123.24 658.9,123.35 659.2,122.8 659.5,121.72 659.8,120.32 660.1,118.55 660.4,118.83 660.7,117.34 661,115.79 661.3,116.84 661.6,118.89 661.9,120.15 662.2,121.63 662.5,121.59 662.8,123.36 663.1,119.83 663.4,119.61 663.7,119.18 664,117.73 664.3,116.35 664.6,118.4 664.9,119.88 665.2,120.72 665.5,120.86 665.8,123.68 666.1,122.9 666.4,125.11 666.7,123.25 667,122.15 667.3,120.67 667.6,119.69 667.9,117.14 668.2,116.54 668.5,115.75 668.8,113.59 669.1,114.08 669.4,115.12 669.7,115.55 670,116.91 670.3,118.25 670.6,119.56 670.9,121.55 671.2,120.36 671.5,118.19 671.8,117.34 672.1,116.25 672.4,116.35 672.7,119.48 673,119.87 673.3,119.17 673.6,121.1 673.9,123.23 674.2,122.18 674.5,121.35 674.8,120.36 675.1,118.89 675.4,117.78 675.7,117.23 676,117.07 676.3,116.9 676.6,117.9 676.9,118.95" stroke="#22cfd4" stroke-width="1.65"/>
<line x1="389.3" y1="119.45" x2="676" y2="119.45" stroke="#dc143c" stroke-width="1.6"/>
</g>
<rect x="389" y="30" width="287" height="179.2" fill="none" stroke="#000" stroke-width="0.8"/>
<line x1="389.3" y1="208.8" x2="389.3" y2="200.8" stroke="#000" stroke-width="1.6"/>
<line x1="389.3" y1="30.1" x2="389.3" y2="38.1" stroke="#000" stroke-width="1.6"/>
<line x1="398.86" y1="208.8" x2="398.86" y2="204.8" stroke="#000" stroke-width="1"/>
<line x1="398.86" y1="30.1" x2="398.86" y2="34.1" stroke="#000" stroke-width="1"/>
<line x1="408.41" y1="208.8" x2="408.41" y2="204.8" stroke="#000" stroke-width="1"/>
<line x1="408.41" y1="30.1" x2="408.41" y2="34.1" stroke="#000" stroke-width="1"/>
<line x1="417.97" y1="208.8" x2="417.97" y2="204.8" stroke="#000" stroke-width="1"/>
<line x1="417.97" y1="30.1" x2="417.97" y2="34.1" stroke="#000" stroke-width="1"/>
<line x1="427.53" y1="208.8" x2="427.53" y2="204.8" stroke="#000" stroke-width="1"/>
<line x1="427.53" y1="30.1" x2="427.53" y2="34.1" stroke="#000" stroke-width="1"/>
<line x1="437.08" y1="208.8" x2="437.08" y2="200.8" stroke="#000" stroke-width="1.6"/>
<line x1="437.08" y1="30.1" x2="437.08" y2="38.1" stroke="#000" stroke-width="1.6"/>
<line x1="446.64" y1="208.8" x2="446.64" y2="204.8" stroke="#000" stroke-width="1"/>
<line x1="446.64" y1="30.1" x2="446.64" y2="34.1" stroke="#000" stroke-width="1"/>
<line x1="456.2" y1="208.8" x2="456.2" y2="204.8" stroke="#000" stroke-width="1"/>
<line x1="456.2" y1="30.1" x2="456.2" y2="34.1" stroke="#000" stroke-width="1"/>
<line x1="465.75" y1="208.8" x2="465.75" y2="204.8" stroke="#000" stroke-width="1"/>
<line x1="465.75" y1="30.1" x2="465.75" y2="34.1" stroke="#000" stroke-width="1"/>
<line x1="475.31" y1="208.8" x2="475.31" y2="204.8" stroke="#000" stroke-width="1"/>
<line x1="475.31" y1="30.1" x2="475.31" y2="34.1" stroke="#000" stroke-width="1"/>
<line x1="484.87" y1="208.8" x2="484.87" y2="200.8" stroke="#000" stroke-width="1.6"/>
<line x1="484.87" y1="30.1" x2="484.87" y2="38.1" stroke="#000" stroke-width="1.6"/>
<line x1="494.42" y1="208.8" x2="494.42" y2="204.8" stroke="#000" stroke-width="1"/>
<line x1="494.42" y1="30.1" x2="494.42" y2="34.1" stroke="#000" stroke-width="1"/>
<line x1="503.98" y1="208.8" x2="503.98" y2="204.8" stroke="#000" stroke-width="1"/>
<line x1="503.98" y1="30.1" x2="503.98" y2="34.1" stroke="#000" stroke-width="1"/>
<line x1="513.54" y1="208.8" x2="513.54" y2="204.8" stroke="#000" stroke-width="1"/>
<line x1="513.54" y1="30.1" x2="513.54" y2="34.1" stroke="#000" stroke-width="1"/>
<line x1="523.09" y1="208.8" x2="523.09" y2="204.8" stroke="#000" stroke-width="1"/>
<line x1="523.09" y1="30.1" x2="523.09" y2="34.1" stroke="#000" stroke-width="1"/>
<line x1="532.65" y1="208.8" x2="532.65" y2="200.8" stroke="#000" stroke-width="1.6"/>
<line x1="532.65" y1="30.1" x2="532.65" y2="38.1" stroke="#000" stroke-width="1.6"/>
<line x1="542.21" y1="208.8" x2="542.21" y2="204.8" stroke="#000" stroke-width="1"/>
<line x1="542.21" y1="30.1" x2="542.21" y2="34.1" stroke="#000" stroke-width="1"/>
<line x1="551.76" y1="208.8" x2="551.76" y2="204.8" stroke="#000" stroke-width="1"/>
<line x1="551.76" y1="30.1" x2="551.76" y2="34.1" stroke="#000" stroke-width="1"/>
<line x1="561.32" y1="208.8" x2="561.32" y2="204.8" stroke="#000" stroke-width="1"/>
<line x1="561.32" y1="30.1" x2="561.32" y2="34.1" stroke="#000" stroke-width="1"/>
<line x1="570.88" y1="208.8" x2="570.88" y2="204.8" stroke="#000" stroke-width="1"/>
<line x1="570.88" y1="30.1" x2="570.88" y2="34.1" stroke="#000" stroke-width="1"/>
<line x1="580.43" y1="208.8" x2="580.43" y2="200.8" stroke="#000" stroke-width="1.6"/>
<line x1="580.43" y1="30.1" x2="580.43" y2="38.1" stroke="#000" stroke-width="1.6"/>
<line x1="589.99" y1="208.8" x2="589.99" y2="204.8" stroke="#000" stroke-width="1"/>
<line x1="589.99" y1="30.1" x2="589.99" y2="34.1" stroke="#000" stroke-width="1"/>
<line x1="599.55" y1="208.8" x2="599.55" y2="204.8" stroke="#000" stroke-width="1"/>
<line x1="599.55" y1="30.1" x2="599.55" y2="34.1" stroke="#000" stroke-width="1"/>
<line x1="609.1" y1="208.8" x2="609.1" y2="204.8" stroke="#000" stroke-width="1"/>
<line x1="609.1" y1="30.1" x2="609.1" y2="34.1" stroke="#000" stroke-width="1"/>
<line x1="618.66" y1="208.8" x2="618.66" y2="204.8" stroke="#000" stroke-width="1"/>
<line x1="618.66" y1="30.1" x2="618.66" y2="34.1" stroke="#000" stroke-width="1"/>
<line x1="628.22" y1="208.8" x2="628.22" y2="200.8" stroke="#000" stroke-width="1.6"/>
<line x1="628.22" y1="30.1" x2="628.22" y2="38.1" stroke="#000" stroke-width="1.6"/>
<line x1="637.77" y1="208.8" x2="637.77" y2="204.8" stroke="#000" stroke-width="1"/>
<line x1="637.77" y1="30.1" x2="637.77" y2="34.1" stroke="#000" stroke-width="1"/>
<line x1="647.33" y1="208.8" x2="647.33" y2="204.8" stroke="#000" stroke-width="1"/>
<line x1="647.33" y1="30.1" x2="647.33" y2="34.1" stroke="#000" stroke-width="1"/>
<line x1="656.89" y1="208.8" x2="656.89" y2="204.8" stroke="#000" stroke-width="1"/>
<line x1="656.89" y1="30.1" x2="656.89" y2="34.1" stroke="#000" stroke-width="1"/>
<line x1="666.44" y1="208.8" x2="666.44" y2="204.8" stroke="#000" stroke-width="1"/>
<line x1="666.44" y1="30.1" x2="666.44" y2="34.1" stroke="#000" stroke-width="1"/>
<line x1="676" y1="208.8" x2="676" y2="200.8" stroke="#000" stroke-width="1.6"/>
<line x1="676" y1="30.1" x2="676" y2="38.1" stroke="#000" stroke-width="1.6"/>
<line x1="389.3" y1="208.8" x2="397.3" y2="208.8" stroke="#000" stroke-width="1.6"/>
<line x1="676" y1="208.8" x2="668" y2="208.8" stroke="#000" stroke-width="1.6"/>
<line x1="389.3" y1="199.87" x2="393.3" y2="199.87" stroke="#000" stroke-width="1"/>
<line x1="676" y1="199.87" x2="672" y2="199.87" stroke="#000" stroke-width="1"/>
<line x1="389.3" y1="190.93" x2="393.3" y2="190.93" stroke="#000" stroke-width="1"/>
<line x1="676" y1="190.93" x2="672" y2="190.93" stroke="#000" stroke-width="1"/>
<line x1="389.3" y1="182" x2="393.3" y2="182" stroke="#000" stroke-width="1"/>
<line x1="676" y1="182" x2="672" y2="182" stroke="#000" stroke-width="1"/>
<line x1="389.3" y1="173.06" x2="393.3" y2="173.06" stroke="#000" stroke-width="1"/>
<line x1="676" y1="173.06" x2="672" y2="173.06" stroke="#000" stroke-width="1"/>
<line x1="389.3" y1="164.12" x2="397.3" y2="164.12" stroke="#000" stroke-width="1.6"/>
<line x1="676" y1="164.12" x2="668" y2="164.12" stroke="#000" stroke-width="1.6"/>
<line x1="389.3" y1="155.19" x2="393.3" y2="155.19" stroke="#000" stroke-width="1"/>
<line x1="676" y1="155.19" x2="672" y2="155.19" stroke="#000" stroke-width="1"/>
<line x1="389.3" y1="146.25" x2="393.3" y2="146.25" stroke="#000" stroke-width="1"/>
<line x1="676" y1="146.25" x2="672" y2="146.25" stroke="#000" stroke-width="1"/>
<line x1="389.3" y1="137.32" x2="393.3" y2="137.32" stroke="#000" stroke-width="1"/>
<line x1="676" y1="137.32" x2="672" y2="137.32" stroke="#000" stroke-width="1"/>
<line x1="389.3" y1="128.38" x2="393.3" y2="128.38" stroke="#000" stroke-width="1"/>
<line x1="676" y1="128.38" x2="672" y2="128.38" stroke="#000" stroke-width="1"/>
<line x1="389.3" y1="119.45" x2="397.3" y2="119.45" stroke="#000" stroke-width="1.6"/>
<line x1="676" y1="119.45" x2="668" y2="119.45" stroke="#000" stroke-width="1.6"/>
<line x1="389.3" y1="110.52" x2="393.3" y2="110.52" stroke="#000" stroke-width="1"/>
<line x1="676" y1="110.52" x2="672" y2="110.52" stroke="#000" stroke-width="1"/>
<line x1="389.3" y1="101.58" x2="393.3" y2="101.58" stroke="#000" stroke-width="1"/>
<line x1="676" y1="101.58" x2="672" y2="101.58" stroke="#000" stroke-width="1"/>
<line x1="389.3" y1="92.64" x2="393.3" y2="92.64" stroke="#000" stroke-width="1"/>
<line x1="676" y1="92.64" x2="672" y2="92.64" stroke="#000" stroke-width="1"/>
<line x1="389.3" y1="83.71" x2="393.3" y2="83.71" stroke="#000" stroke-width="1"/>
<line x1="676" y1="83.71" x2="672" y2="83.71" stroke="#000" stroke-width="1"/>
<line x1="389.3" y1="74.77" x2="397.3" y2="74.77" stroke="#000" stroke-width="1.6"/>
<line x1="676" y1="74.77" x2="668" y2="74.77" stroke="#000" stroke-width="1.6"/>
<line x1="389.3" y1="65.84" x2="393.3" y2="65.84" stroke="#000" stroke-width="1"/>
<line x1="676" y1="65.84" x2="672" y2="65.84" stroke="#000" stroke-width="1"/>
<line x1="389.3" y1="56.91" x2="393.3" y2="56.91" stroke="#000" stroke-width="1"/>
<line x1="676" y1="56.91" x2="672" y2="56.91" stroke="#000" stroke-width="1"/>
<line x1="389.3" y1="47.97" x2="393.3" y2="47.97" stroke="#000" stroke-width="1"/>
<line x1="676" y1="47.97" x2="672" y2="47.97" stroke="#000" stroke-width="1"/>
<line x1="389.3" y1="39.03" x2="393.3" y2="39.03" stroke="#000" stroke-width="1"/>
<line x1="676" y1="39.03" x2="672" y2="39.03" stroke="#000" stroke-width="1"/>
<line x1="389.3" y1="30.1" x2="397.3" y2="30.1" stroke="#000" stroke-width="1.6"/>
<line x1="676" y1="30.1" x2="668" y2="30.1" stroke="#000" stroke-width="1.6"/>
<text transform="translate(384.1,34.9) scale(0.9,1)" text-anchor="end" class="tl">10</text>
<text transform="translate(384.1,79.57) scale(0.9,1)" text-anchor="end" class="tl">5</text>
<text transform="translate(384.1,124.25) scale(0.9,1)" text-anchor="end" class="tl">0</text>
<text transform="translate(384.1,168.93) scale(0.9,1)" text-anchor="end" class="tl">5</text>
<line x1="370.04" y1="165.93" x2="377.44" y2="165.93" stroke="#222" stroke-width="0.75"/>
<text transform="translate(384.1,213.6) scale(0.9,1)" text-anchor="end" class="tl">10</text>
<line x1="364.58" y1="210.6" x2="371.98" y2="210.6" stroke="#222" stroke-width="0.75"/>
<text transform="translate(389.3,223.6) scale(0.9,1)" text-anchor="middle" class="tl">0</text>
<text transform="translate(437.08,223.6) scale(0.9,1)" text-anchor="middle" class="tl">25</text>
<text transform="translate(484.87,223.6) scale(0.9,1)" text-anchor="middle" class="tl">50</text>
<text transform="translate(532.65,223.6) scale(0.9,1)" text-anchor="middle" class="tl">75</text>
<text transform="translate(580.43,223.6) scale(0.9,1)" text-anchor="middle" class="tl">100</text>
<text transform="translate(628.22,223.6) scale(0.9,1)" text-anchor="middle" class="tl">125</text>
<text transform="translate(676,223.6) scale(0.9,1)" text-anchor="middle" class="tl">150</text>
<text transform="translate(521.8,236.9) scale(1.15,1)" text-anchor="start" class="tl it">x</text>
<line x1="529.4" y1="240" x2="533.6" y2="228.3" stroke="#222" stroke-width="0.8"/>
<text transform="translate(534.4,236.9) scale(1,1)" text-anchor="start" class="tl it">δ</text>
<text transform="translate(540,238.8) scale(0.95,1)" text-anchor="start" class="ts">0</text>
<g transform="translate(358.7,136.4) rotate(-90)">
<text x="0" y="0" class="tl yl">%<tspan class="it" font-size="15" dx="0.2">E</tspan><tspan class="it" font-size="10.4" dy="1.7" dx="-0.6">VK</tspan></text>
</g>
<rect x="223.5" y="36.5" width="98.5" height="38.2" rx="2.5" fill="#fff" fill-opacity="0.8" stroke="#dcdcdc" stroke-width="1"/>
<line x1="227.5" y1="45.9" x2="254" y2="45.9" stroke="#f00" stroke-width="2"/>
<text transform="translate(262.9,50.2) scale(0.975,1)" class="lg">M5.84-RR1</text>
<line x1="227.5" y1="63.9" x2="254" y2="63.9" stroke="#00f" stroke-width="2"/>
<text transform="translate(262.9,68.2) scale(0.975,1)" class="lg">M5.84-RR2</text>
<rect x="571" y="36.5" width="98.5" height="38.2" rx="2.5" fill="#fff" fill-opacity="0.8" stroke="#dcdcdc" stroke-width="1"/>
<line x1="575" y1="45.9" x2="601.5" y2="45.9" stroke="#22cfd4" stroke-width="1.8"/>
<text transform="translate(610.4,50.2) scale(0.975,1)" class="lg">M5.84-DF1</text>
<line x1="575" y1="63.9" x2="601.5" y2="63.9" stroke="#8a8a8a" stroke-width="1.8"/>
<text transform="translate(610.4,68.2) scale(0.975,1)" class="lg">M5.84-DF3</text>
<text x="182.3" y="17" text-anchor="middle" class="tt">(a)</text>
<text x="529.9" y="17" text-anchor="middle" class="tt">(b)</text>
</svg>
</body></html>
